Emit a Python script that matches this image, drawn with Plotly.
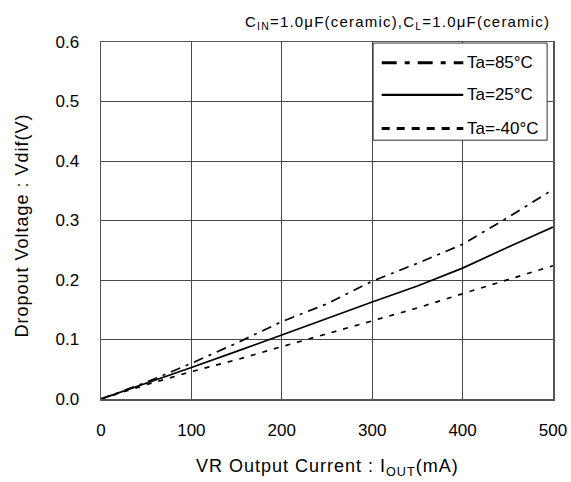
import plotly.graph_objects as go

iout = [0, 50, 100, 150, 200, 250, 300, 350, 400, 450, 500]
v_85 = [0, 0.028, 0.060, 0.094, 0.130, 0.160, 0.198, 0.228, 0.260, 0.305, 0.352]
v_25 = [0, 0.026, 0.053, 0.080, 0.108, 0.135, 0.163, 0.190, 0.220, 0.255, 0.289]
v_m40 = [0, 0.024, 0.046, 0.066, 0.088, 0.110, 0.132, 0.153, 0.177, 0.200, 0.224]
x_ticks = [0, 100, 200, 300, 400, 500]
y_ticks = [0, 0.1, 0.2, 0.3, 0.4, 0.5, 0.6]

series = [
    ("Ta=85°C", v_85, "10px,6px,3px,6px", "15px,8px,5px,8px"),
    ("Ta=25°C", v_25, "solid", "solid"),
    ("Ta=-40°C", v_m40, "5px,7px", "8px,7px"),
]

font = "Liberation Sans, Arial, sans-serif"


def spaced(text, px):
    return '<span style="letter-spacing:%spx">%s</span>' % (px, text)


fig = go.Figure()
shapes = [dict(type="rect", xref="paper", yref="paper", x0=0.602, x1=0.987, y0=0.725, y1=0.997,
               fillcolor="white", line=dict(color="#333", width=1), layer="above")]
annotations = []
leg_y = [0.942, 0.852, 0.758]
leg_w = [3, 2.2, 3]
for (name, vals, dash, ldash), ly, lw in zip(series, leg_y, leg_w):
    fig.add_trace(go.Scatter(x=iout, y=vals, mode="lines", name=name, showlegend=False,
                             line=dict(color="black", width=1.7, dash=dash)))
    shapes.append(dict(type="line", xref="paper", yref="paper", x0=0.621, x1=0.8015,
                       y0=ly, y1=ly, line=dict(color="black", width=lw, dash=ldash),
                       layer="above"))
    annotations.append(dict(text=name, xref="paper", yref="paper", x=0.805, y=ly,
                            xanchor="left", yanchor="middle", showarrow=False,
                            font=dict(size=17, family=font)))

annotations += [
    dict(text=spaced("C<sub>IN</sub>=1.0μF(ceramic),C<sub>L</sub>=1.0μF(ceramic)", 1.2),
         xref="paper", yref="paper", x=1.0, y=1.0, xanchor="right", yanchor="middle",
         xshift=-1, yshift=20, showarrow=False, font=dict(size=15, family=font)),
    dict(text=spaced("Dropout Voltage : Vdif(V)", 1), xref="paper", yref="paper", x=0, y=0.5,
         xanchor="center", yanchor="middle", xshift=-80, yshift=-5, textangle=-90,
         showarrow=False, font=dict(size=18, family=font)),
    dict(text=spaced("VR Output Current : I<sub>OUT</sub>(mA)", 1), xref="paper", yref="paper",
         x=0.5, y=0, xanchor="center", yanchor="middle", yshift=-68,
         showarrow=False, font=dict(size=18, family=font)),
]

fig.update_layout(
    width=571, height=482,
    margin=dict(l=101, r=18, t=42, b=83, autoexpand=False),
    paper_bgcolor="white", plot_bgcolor="white",
    font=dict(family=font, size=17, color="black"),
    showlegend=False,
    hovermode=False,
    xaxis=dict(range=[0, 500], tickvals=x_ticks, automargin=False,
               showgrid=True, gridcolor="#484848", gridwidth=1,
               showline=True, linecolor="#555", linewidth=1.5, mirror=True,
               ticks="outside", ticklen=15, tickcolor="rgba(0,0,0,0)", zeroline=False),
    yaxis=dict(range=[0, 0.6], tickvals=y_ticks, tickformat=".1f", automargin=False,
               showgrid=True, gridcolor="#484848", gridwidth=1,
               showline=True, linecolor="#555", linewidth=1.5, mirror=True,
               ticks="outside", ticklen=17, tickcolor="rgba(0,0,0,0)", zeroline=False),
    shapes=shapes,
    annotations=annotations,
)
fig.write_html(
    "out.html",
    config={"displayModeBar": False, "staticPlot": True},
    post_script="document.body.style.margin='0';document.body.style.overflow='hidden';"
                "document.documentElement.style.overflow='hidden';",
)
